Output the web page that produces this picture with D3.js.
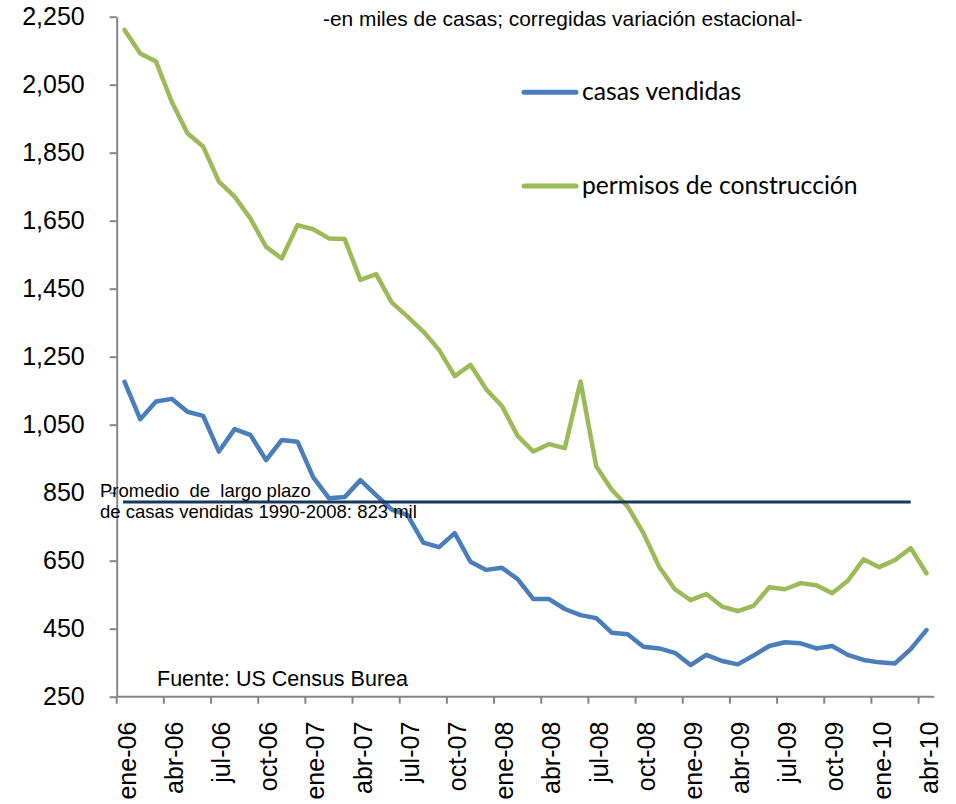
<!DOCTYPE html>
<html>

<head>
    <meta charset="utf-8" />
    <title>Casas vendidas y permisos</title>
    <style>
        body { margin: 0; background: #fff; }
        text { font-family: "Liberation Sans", Arial, sans-serif; fill: #000; }
        .legend text { font-family: Lato, "Open Sans", sans-serif; }
    </style>
</head>

<body>
    <svg width="956" height="804"></svg>
</body>

<script src="https://cdn.jsdelivr.net/npm/d3@7/dist/d3.min.js"></script>
<script>

    // meses, ene-06 .. abr-10
    var meses = [
        'ene-06', 'feb-06', 'mar-06', 'abr-06', 'may-06', 'jun-06', 'jul-06', 'ago-06', 'sep-06', 'oct-06', 'nov-06', 'dic-06',
        'ene-07', 'feb-07', 'mar-07', 'abr-07', 'may-07', 'jun-07', 'jul-07', 'ago-07', 'sep-07', 'oct-07', 'nov-07', 'dic-07',
        'ene-08', 'feb-08', 'mar-08', 'abr-08', 'may-08', 'jun-08', 'jul-08', 'ago-08', 'sep-08', 'oct-08', 'nov-08', 'dic-08',
        'ene-09', 'feb-09', 'mar-09', 'abr-09', 'may-09', 'jun-09', 'jul-09', 'ago-09', 'sep-09', 'oct-09', 'nov-09', 'dic-09',
        'ene-10', 'feb-10', 'mar-10', 'abr-10'
    ];

    var etiquetasX = ['ene-06', 'abr-06', 'jul-06', 'oct-06', 'ene-07', 'abr-07', 'jul-07', 'oct-07', 'ene-08',
        'abr-08', 'jul-08', 'oct-08', 'ene-09', 'abr-09', 'jul-09', 'oct-09', 'ene-10', 'abr-10'];

    var ticksY = [250, 450, 650, 850, 1050, 1250, 1450, 1650, 1850, 2050, 2250];

    var casasVendidas = [
        1176, 1066, 1118, 1126, 1088, 1076, 971, 1037, 1020, 946, 1005, 1000,
        895, 834, 837, 887, 843, 800, 784, 703, 690, 731, 647, 623,
        629, 596, 537, 537, 508, 490, 481, 438, 434, 397, 392, 379,
        343, 373, 355, 345, 371, 399, 410, 407, 392, 399, 373, 358,
        351, 348, 390, 446
    ];

    var permisos = [
        2211, 2142, 2118, 2000, 1907, 1868, 1765, 1721, 1657, 1573, 1539, 1637,
        1625, 1598, 1596, 1476, 1493, 1409, 1368, 1324, 1270, 1193, 1226, 1154,
        1105, 1017, 971, 993, 981, 1177, 927, 858, 809, 731, 632, 566,
        534, 552, 515, 502, 517, 572, 566, 584, 578, 554, 591, 654,
        631, 652, 687, 613
    ];

    // promedio de largo plazo 1990-2008
    var promedio = 823;
    var tramoPromedio = ['ene-06', 'mar-10'];

    var svg = d3.select('svg');

    var x = d3.scaleBand()
        .domain(meses)
        .range([116.7, 934.3])
        .padding(0);

    var y = d3.scaleLinear()
        .domain([250, 2250])
        .range([696.7, 16.7]);

    var cx = function (m) { return x(m) + x.bandwidth() / 2; };

    // eje Y
    var ejeY = svg.append('g')
        .attr('transform', 'translate(116.7,0)')
        .call(d3.axisLeft(y)
            .tickValues(ticksY)
            .tickFormat(d3.format(','))
            .tickSize(7)
            .tickSizeOuter(0)
            .tickPadding(25));
    ejeY.select('.domain').attr('stroke', '#868686').attr('stroke-width', 2);
    ejeY.selectAll('.tick line').attr('stroke', '#868686').attr('stroke-width', 2);
    ejeY.selectAll('.tick text')
        .style('font-family', '"Liberation Sans", Arial, sans-serif')
        .style('font-size', '25px')
        .attr('fill', '#000');

    // eje X
    var ejeX = svg.append('g').attr('class', 'ejeX');
    ejeX.append('line')
        .attr('x1', x.range()[0]).attr('x2', x.range()[1])
        .attr('y1', y(250)).attr('y2', y(250))
        .attr('stroke', '#868686').attr('stroke-width', 2);

    ejeX.selectAll('line.tick')
        .data(etiquetasX)
        .enter()
        .append('line')
        .attr('class', 'tick')
        .attr('x1', function (d) { return x(d); })
        .attr('x2', function (d) { return x(d); })
        .attr('y1', y(250))
        .attr('y2', y(250) + 7)
        .attr('stroke', '#868686')
        .attr('stroke-width', 2);

    ejeX.selectAll('text')
        .data(etiquetasX)
        .enter()
        .append('text')
        .attr('transform', function (d) {
            return 'translate(' + cx(d) + ',' + (y(250) + 25) + ') rotate(-90)';
        })
        .attr('dy', '0.45em')
        .attr('text-anchor', 'end')
        .style('font-size', '25px')
        .text(function (d) { return d; });

    // lineas
    var linea = d3.line()
        .x(function (d, i) { return cx(meses[i]); })
        .y(function (d) { return y(d); });

    svg.append('path')
        .datum(permisos)
        .attr('d', linea)
        .attr('fill', 'none')
        .attr('stroke', '#9BBB59')
        .attr('stroke-width', 4.5)
        .attr('stroke-linejoin', 'round')
        .attr('stroke-linecap', 'round');

    svg.append('path')
        .datum(casasVendidas)
        .attr('d', linea)
        .attr('fill', 'none')
        .attr('stroke', '#4A7EBB')
        .attr('stroke-width', 4.5)
        .attr('stroke-linejoin', 'round')
        .attr('stroke-linecap', 'round');

    svg.append('line')
        .attr('x1', cx(tramoPromedio[0]) - 1.5)
        .attr('x2', cx(tramoPromedio[1]))
        .attr('y1', y(promedio))
        .attr('y2', y(promedio))
        .attr('stroke', '#17375E')
        .attr('stroke-width', 3);

    // textos
    svg.append('text')
        .attr('x', 323).attr('y', 26)
        .style('font-size', '20.9px')
        .text('-en miles de casas; corregidas variación estacional-');

    var nota = svg.append('text')
        .style('font-size', '18.5px')
        .attr('x', 100);
    nota.append('tspan').attr('x', 100).attr('y', 497)
        .text('Promedio\u00a0 de\u00a0 largo plazo');
    nota.append('tspan').attr('x', 100).attr('y', 518)
        .text('de casas vendidas 1990-2008: 823 mil');

    svg.append('text')
        .attr('x', 157).attr('y', 686)
        .style('font-size', '21.5px')
        .text('Fuente: US Census Burea');

    // leyenda
    var series = [
        { nombre: 'casas vendidas', color: '#4A7EBB', y: 92.3 },
        { nombre: 'permisos de construcción', color: '#9BBB59', y: 186 }
    ];

    var leyenda = svg.append('g').attr('class', 'legend');
    leyenda.selectAll('line')
        .data(series)
        .enter()
        .append('line')
        .attr('x1', 524).attr('x2', 576)
        .attr('y1', function (d) { return d.y; })
        .attr('y2', function (d) { return d.y; })
        .attr('stroke', function (d) { return d.color; })
        .attr('stroke-width', 5)
        .attr('stroke-linecap', 'round');
    leyenda.selectAll('text')
        .data(series)
        .enter()
        .append('text')
        .attr('x', 582)
        .attr('y', function (d) { return d.y + 8; })
        .style('font-size', '24.7px')
        .text(function (d) { return d.nombre; });

</script>

</html>
